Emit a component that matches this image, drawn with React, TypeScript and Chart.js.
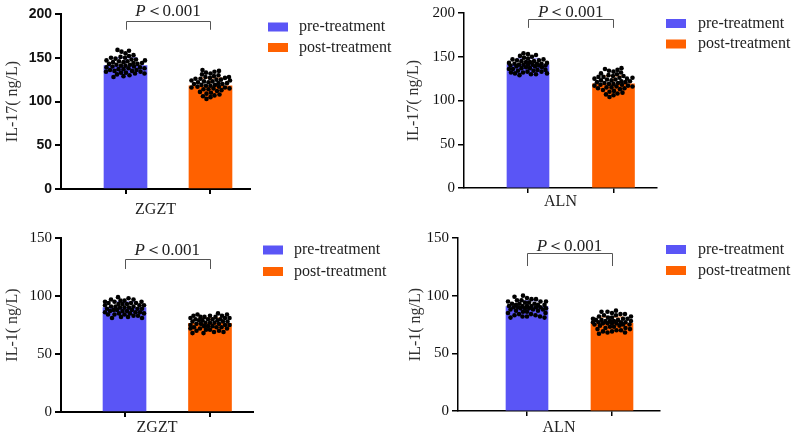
import React, { useEffect, useRef } from 'react';
import { Chart, registerables } from 'chart.js';
Chart.register(...registerables);

// ---------- data ----------
const groups = ['pre-treatment', 'post-treatment'];
const significance = ['P', '＜0.001'];

const zgztIL17Means = [141, 118];
const zgztIL17SD = [9, 9];
const zgztIL17Pre = [159, 158, 157, 155, 153, 152, 151, 150, 149, 148, 148, 147, 147, 146, 146, 145, 145, 144, 144, 143, 143, 142, 142, 141, 141, 140, 140, 139, 139, 138, 138, 137, 137, 136, 136, 135, 135, 134, 134, 133, 133, 132, 132, 131, 130, 129, 128, 150];
const zgztIL17Post = [136, 135, 134, 133, 132, 131, 130, 129, 128, 128, 127, 127, 126, 126, 125, 125, 124, 124, 123, 123, 122, 122, 121, 121, 120, 120, 119, 119, 118, 118, 117, 117, 116, 116, 115, 115, 114, 114, 113, 112, 111, 110, 109, 108, 107, 106, 105, 103];

const alnIL17Means = [141, 119];
const alnIL17SD = [7, 9];
const alnIL17Pre = [154, 153, 152, 151, 150, 149, 148, 147, 146, 146, 145, 145, 144, 144, 143, 143, 142, 142, 142, 141, 141, 141, 141, 140, 140, 140, 139, 139, 138, 138, 137, 137, 136, 136, 135, 135, 134, 134, 133, 133, 132, 132, 131, 131, 130, 130, 129, 147];
const alnIL17Post = [137, 136, 135, 134, 133, 132, 131, 130, 129, 128, 128, 127, 127, 126, 126, 125, 125, 124, 124, 123, 123, 122, 122, 121, 121, 120, 120, 119, 119, 118, 118, 117, 117, 116, 116, 115, 115, 114, 114, 113, 112, 111, 110, 109, 108, 107, 106, 104];

const zgztIL1Means = [90, 76.5];
const zgztIL1SD = [5, 4.5];
const zgztIL1Pre = [99, 98, 97, 97, 96, 96, 95, 95, 95, 94, 94, 94, 93, 93, 93, 92, 92, 92, 91, 91, 91, 90, 90, 90, 89, 89, 89, 88, 88, 88, 87, 87, 87, 86, 86, 86, 85, 85, 85, 84, 84, 84, 83, 83, 82, 82, 81, 81];
const zgztIL1Post = [85, 84, 84, 83, 83, 83, 82, 82, 82, 81, 81, 81, 80, 80, 80, 79, 79, 79, 78, 78, 78, 77, 77, 77, 76, 76, 76, 75, 75, 75, 74, 74, 74, 73, 73, 73, 72, 72, 72, 71, 71, 70, 70, 69, 69, 68, 68, 80];

const alnIL1Means = [90.5, 76];
const alnIL1SD = [5, 5.5];
const alnIL1Pre = [100, 99, 98, 97, 97, 96, 96, 95, 95, 95, 94, 94, 93, 93, 93, 92, 92, 92, 91, 91, 91, 90, 90, 90, 90, 89, 89, 89, 88, 88, 88, 87, 87, 86, 86, 85, 85, 84, 84, 83, 83, 82, 82, 82, 81, 81, 91, 89];
const alnIL1Post = [87, 86, 86, 85, 84, 84, 83, 83, 82, 82, 81, 81, 80, 80, 79, 79, 79, 78, 78, 78, 77, 77, 77, 76, 76, 76, 75, 75, 75, 74, 74, 73, 73, 72, 72, 71, 71, 70, 70, 69, 69, 68, 68, 67, 76, 77, 78, 80];

// ---------- styles ----------
const barColors = ['#5A55F6', '#FF6100'];
const errColors = ['#A09DFA', '#FFA060'];
const SERIF = "'Liberation Serif', 'Times New Roman', serif";
const SANS = "'Liberation Sans', Arial, sans-serif";

type PanelCfg = {
  key: string;
  left: number; top: number; width: number; height: number;
  area: [number, number, number, number];
  xRange: [number, number];
  yMax: number;
  category: string;
  yTitle: string;
  tickFont: any;
  axisWidth: number;
  barThickness: number;
  means: number[]; sds: number[]; pre: number[]; post: number[];
  bracket: [number, number, number];
  legend: { x: number; y: [number, number]; textX: number };
  xTitlePad: number; yTitlePad: number;
};

const panels: PanelCfg[] = [
  {
    key: 'p1', left: 0, top: 0, width: 400, height: 218,
    area: [61, 14, 250, 189], xRange: [0.241, 2.465], yMax: 200,
    category: 'ZGZT', yTitle: 'IL-17( ng/L)',
    tickFont: { family: SANS, size: 14, weight: 'bold' }, axisWidth: 2, barThickness: 43,
    means: zgztIL17Means, sds: zgztIL17SD, pre: zgztIL17Pre, post: zgztIL17Post,
    bracket: [192, 182, 203], legend: { x: 268, y: [27, 47.5], textX: 299 },
    xTitlePad: 0, yTitlePad: 5,
  },
  {
    key: 'p2', left: 400, top: 0, width: 393, height: 218,
    area: [64, 13, 257, 188], xRange: [0.2515, 2.509], yMax: 200,
    category: 'ALN', yTitle: 'IL-17( ng/L)',
    tickFont: { family: SERIF, size: 15 }, axisWidth: 1.5, barThickness: 42,
    means: alnIL17Means, sds: alnIL17SD, pre: alnIL17Pre, post: alnIL17Post,
    bracket: [193, 183, 201], legend: { x: 266, y: [23.5, 44], textX: 298 },
    xTitlePad: 8, yTitlePad: 6,
  },
  {
    key: 'p3', left: 0, top: 218, width: 400, height: 218,
    area: [61, 20, 253, 194], xRange: [0.257, 2.503], yMax: 150,
    category: 'ZGZT', yTitle: 'IL-1( ng/L)',
    tickFont: { family: SERIF, size: 15 }, axisWidth: 2, barThickness: 43,
    means: zgztIL1Means, sds: zgztIL1SD, pre: zgztIL1Pre, post: zgztIL1Post,
    bracket: [132, 123.3, 138.8], legend: { x: 263, y: [32, 53.5], textX: 294 },
    xTitlePad: 0, yTitlePad: 4.5,
  },
  {
    key: 'p4', left: 400, top: 218, width: 393, height: 218,
    area: [58, 20, 260, 193], xRange: [0.188, 2.565], yMax: 150,
    category: 'ALN', yTitle: 'IL-1( ng/L)',
    tickFont: { family: SERIF, size: 15 }, axisWidth: 1.5, barThickness: 42,
    means: alnIL1Means, sds: alnIL1SD, pre: alnIL1Pre, post: alnIL1Post,
    bracket: [137, 125.7, 143], legend: { x: 266, y: [31.5, 52.5], textX: 298 },
    xTitlePad: 0, yTitlePad: 8,
  },
];

// beeswarm: each dot is placed at the x offset closest to the center that
// does not collide with dots already placed (computed in pixel space), kept
// within a maximum half-width; if no free spot, the least-overlapping spot is used
function swarm(values: number[], center: number, mean: number, pxPerX: number, pxPerY: number, d: number, half: number) {
  const sorted = values.slice().sort((a, b) => Math.abs(a - mean) - Math.abs(b - mean));
  const placed: { px: number; py: number; v: number }[] = [];
  sorted.forEach((v) => {
    const py = v * pxPerY;
    let chosen: number | null = null;
    let best = 0;
    let bestOverlap = Infinity;
    for (let k = 0; ; k++) {
      const off = (k % 2 === 0 ? 1 : -1) * Math.ceil(k / 2) * 0.5;
      if (Math.abs(off) > half) break;
      let worst = 0;
      placed.forEach((p) => {
        const ddx = p.px - off;
        const ddy = p.py - py;
        const dist = Math.sqrt(ddx * ddx + ddy * ddy);
        if (d - dist > worst) worst = d - dist;
      });
      if (worst <= 0) { chosen = off; break; }
      if (worst < bestOverlap) { bestOverlap = worst; best = off; }
    }
    placed.push({ px: chosen === null ? best : chosen, py, v });
  });
  return placed.map((p) => ({ x: center + p.px / pxPerX, y: p.v }));
}

const overlayPlugin = {
  id: 'overlay',
  afterDatasetDraw(chart: any, args: any, opts: any) {
    if (args.meta.type !== 'bar') return;
    const ctx = chart.ctx;
    const y = chart.scales.y;
    const cfg: PanelCfg = opts.cfg;
    args.meta.data.forEach((el: any, i: number) => {
      const top = y.getPixelForValue(cfg.means[i] + cfg.sds[i]);
      const w = el.width * 0.55;
      ctx.save();
      ctx.strokeStyle = errColors[i];
      ctx.lineWidth = 1.5;
      ctx.beginPath();
      ctx.moveTo(el.x, el.y);
      ctx.lineTo(el.x, top);
      ctx.moveTo(el.x - w / 2, top);
      ctx.lineTo(el.x + w / 2, top);
      ctx.stroke();
      ctx.restore();
    });
  },
  afterDraw(chart: any, _args: any, opts: any) {
    const cfg: PanelCfg = opts.cfg;
    const ctx = chart.ctx;
    const xs = chart.scales.x;
    const ys = chart.scales.y;
    const x1 = xs.getPixelForValue(1);
    const x2 = xs.getPixelForValue(2);
    const yt = ys.getPixelForValue(cfg.bracket[0]);
    const yb = ys.getPixelForValue(cfg.bracket[1]);
    const ytxt = ys.getPixelForValue(cfg.bracket[2]);
    ctx.save();
    ctx.strokeStyle = '#555';
    ctx.lineWidth = 1;
    ctx.beginPath();
    ctx.moveTo(Math.round(x1) + 0.5, yb);
    ctx.lineTo(Math.round(x1) + 0.5, Math.round(yt) + 0.5);
    ctx.lineTo(Math.round(x2) + 0.5, Math.round(yt) + 0.5);
    ctx.lineTo(Math.round(x2) + 0.5, yb);
    ctx.stroke();
    // significance text
    const fI = `italic 17px ${SERIF}`;
    const fN = `17px ${SERIF}`;
    ctx.font = fI;
    const w1 = ctx.measureText(significance[0]).width;
    ctx.font = fN;
    const w2 = ctx.measureText(significance[1]).width;
    const sx = (x1 + x2) / 2 - (w1 + w2) / 2;
    ctx.fillStyle = '#222';
    ctx.textBaseline = 'middle';
    ctx.textAlign = 'left';
    ctx.font = fI;
    ctx.fillText(significance[0], sx, ytxt);
    ctx.font = fN;
    ctx.fillText(significance[1], sx + w1, ytxt);
    // legend
    groups.forEach((g, i) => {
      const cy = cfg.legend.y[i];
      ctx.fillStyle = barColors[i];
      ctx.fillRect(cfg.legend.x, cy - 4.5, 20, 9);
      ctx.fillStyle = '#222';
      ctx.font = `16px ${SERIF}`;
      ctx.fillText(g, cfg.legend.textX, cy);
    });
    ctx.restore();
  },
};

function PanelChart({ cfg }: { cfg: PanelCfg }) {
  const ref = useRef<HTMLCanvasElement | null>(null);
  useEffect(() => {
    if (!ref.current) return;
    const [L, T, R, B] = cfg.area;
    const pxPerX = (R - L) / (cfg.xRange[1] - cfg.xRange[0]);
    const pxPerY = (B - T) / cfg.yMax;
    const dotD = 4.2;
    const half = cfg.barThickness / 2 - 2;
    const prePts = swarm(cfg.pre, 1, cfg.means[0], pxPerX, pxPerY, dotD, half);
    const postPts = swarm(cfg.post, 2, cfg.means[1], pxPerX, pxPerY, dotD, half);
    const chart = new Chart(ref.current, {
      type: 'bar',
      data: {
        datasets: [
          {
            type: 'scatter',
            data: [...prePts, ...postPts],
            backgroundColor: '#000',
            borderWidth: 0,
            pointRadius: 2.3,
            order: 0,
          } as any,
          {
            type: 'bar',
            data: [
              { x: 1, y: cfg.means[0] },
              { x: 2, y: cfg.means[1] },
            ],
            backgroundColor: barColors,
            borderWidth: 0,
            barThickness: cfg.barThickness,
            order: 2,
          } as any,
        ],
      },
      options: {
        responsive: false,
        animation: false,
        devicePixelRatio: 1,
        layout: { padding: { left: 0, top: T, right: cfg.width - R, bottom: 0 } },
        plugins: {
          legend: { display: false },
          tooltip: { enabled: false },
          overlay: { cfg },
        } as any,
        scales: {
          x: {
            type: 'linear',
            min: cfg.xRange[0],
            max: cfg.xRange[1],
            offset: false,
            afterBuildTicks: (s: any) => {
              s.ticks = [{ value: 1 }, { value: 2 }];
            },
            afterFit: (s: any) => {
              s.height = cfg.height - B;
            },
            ticks: { display: false },
            grid: {
              offset: false,
              drawOnChartArea: false,
              drawTicks: true,
              tickLength: 5,
              color: '#000',
              lineWidth: cfg.axisWidth,
            },
            border: { color: '#000', width: cfg.axisWidth },
            title: {
              display: true,
              text: cfg.category,
              color: '#222',
              font: { family: SERIF, size: 16, lineHeight: 1 },
              padding: { top: 0, bottom: cfg.xTitlePad },
            },
          } as any,
          y: {
            type: 'linear',
            min: 0,
            max: cfg.yMax,
            afterFit: (s: any) => {
              s.width = L;
            },
            ticks: {
              stepSize: 50,
              color: '#111',
              font: cfg.tickFont,
              padding: 3,
            },
            grid: {
              drawOnChartArea: false,
              drawTicks: true,
              tickLength: 6,
              color: '#000',
              lineWidth: cfg.axisWidth,
            },
            border: { color: '#000', width: cfg.axisWidth },
            title: {
              display: true,
              text: cfg.yTitle,
              color: '#333',
              font: { family: SERIF, size: 16, lineHeight: 1 },
              padding: { top: cfg.yTitlePad, bottom: 0 },
            },
          } as any,
        },
      },
      plugins: [overlayPlugin as any],
    });
    return () => chart.destroy();
  }, [cfg]);
  return (
    <canvas
      ref={ref}
      width={cfg.width}
      height={cfg.height}
      style={{ position: 'absolute', left: cfg.left, top: cfg.top, width: cfg.width, height: cfg.height }}
    />
  );
}

export default function App() {
  return (
    <div style={{ position: 'absolute', left: 0, top: 0, width: 793, height: 436, background: '#fff' }}>
      {panels.map((p) => (
        <PanelChart key={p.key} cfg={p} />
      ))}
    </div>
  );
}
